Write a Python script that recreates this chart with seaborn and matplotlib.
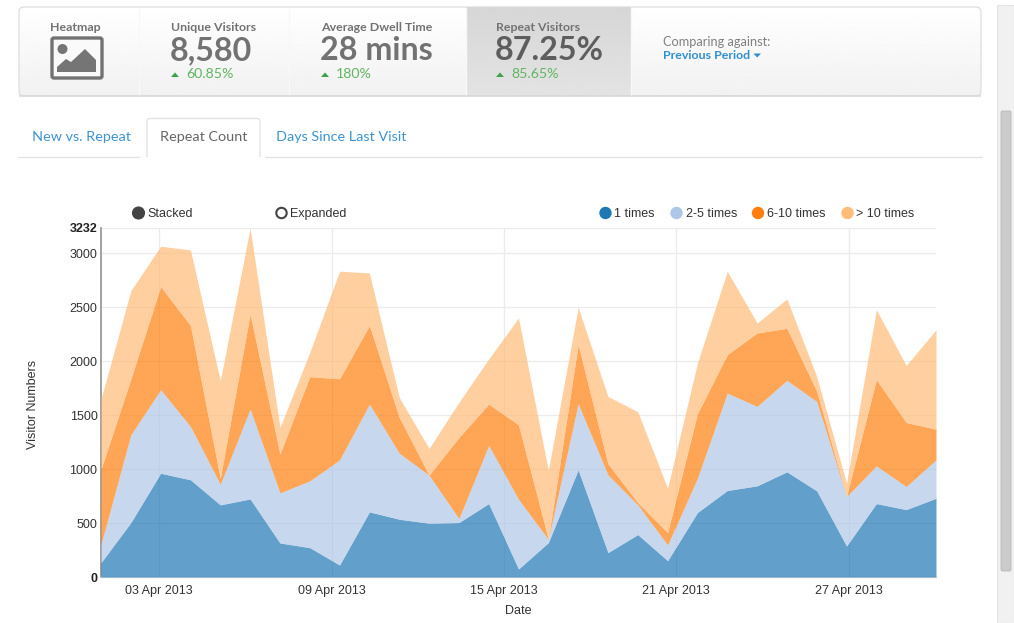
import numpy as np
import pandas as pd
import matplotlib
matplotlib.use("Agg")
import matplotlib.pyplot as plt
from matplotlib.patches import FancyBboxPatch, Rectangle, Circle, Polygon
import seaborn as sns

# ---------- data ----------
series_names = ["1 times", "2-5 times", "6-10 times", "> 10 times"]
day_index = list(range(29))
once = [133,504,961,900,668,723,315,272,111,603,535,498,504,680,74,318,992,226,393,151,597,801,844,974,798,287,680,624,729]
two_five = [170,813,773,494,191,832,464,618,974,998,612,445,37,538,646,31,612,720,275,146,318,902,736,847,828,458,349,214,356]
six_ten = [695,516,955,934,53,881,359,965,751,727,331,0,751,383,690,0,547,102,21,114,597,356,680,482,93,0,798,593,284]
over_ten = [650,819,374,701,906,796,247,225,996,488,185,247,325,418,989,637,347,624,841,411,469,773,92,272,139,124,649,528,920]
x_tick_labels = ["03 Apr 2013", "09 Apr 2013", "15 Apr 2013", "21 Apr 2013", "27 Apr 2013"]
x_tick_positions = [1.945, 7.73, 13.51, 19.28, 25.08]
y_ticks = [0, 500, 1000, 1500, 2000, 2500, 3000, 3232]

kpi_titles = ["Unique Visitors", "Average Dwell Time", "Repeat Visitors"]
kpi_values = ["8,580", "28 mins", "87.25%"]
kpi_changes = ["60.85%", "180%", "85.65%"]
tab_labels = ["New vs. Repeat", "Repeat Count", "Days Since Last Visit"]

# ---------- theme ----------
sns.set_theme(style="white")
plt.rcParams["font.family"] = ["Liberation Sans", "DejaVu Sans"]
palette = sns.color_palette("tab20", 4)
W, H = 1014, 623
fig = plt.figure(figsize=(W / 100, H / 100), dpi=100, facecolor="white")

# ---------- page overlay in pixel coordinates ----------
bg = fig.add_axes([0, 0, 1, 1], zorder=0)
bg.set_xlim(0, W); bg.set_ylim(H, 0); bg.axis("off")
UI = "Lato"
BIG = "Lato"
GREY = "#727272"
BLUE = "#3c94d2"
GREEN = "#62b562"

panel = FancyBboxPatch((19, 7), 962, 89, boxstyle="round,pad=0,rounding_size=5",
                       fc="none", ec="#dadada", lw=0.8, zorder=5)
bg.add_patch(panel)
grad = np.linspace(1, 0.945, 64).reshape(-1, 1)
im = bg.imshow(grad, extent=(19, 981, 96, 7), cmap="gray", vmin=0, vmax=1, aspect="auto", zorder=1)
im.set_clip_path(panel)
sel = bg.imshow(np.linspace(0.84, 0.89, 64).reshape(-1, 1), extent=(466, 631, 96, 7), cmap="gray",
                vmin=0, vmax=1, aspect="auto", zorder=2)
bg.set_xlim(0, W); bg.set_ylim(H, 0)
bg.add_patch(Rectangle((19, 95), 962, 1.5, fc="#cfcfcf", ec="none", zorder=3, alpha=.6))
for xd in (139, 289, 466, 631):
    bg.plot([xd, xd], [8, 95], color="#f8f8f8", lw=1.0, zorder=3)

bg.text(75.5, 27.5, "Heatmap", ha="center", va="center", family=UI, fontsize=8.9, color=GREY, weight="bold", zorder=6)
bg.add_patch(FancyBboxPatch((52, 38), 50, 40, boxstyle="round,pad=0,rounding_size=2",
                            fc="#fafafa", ec="#727272", lw=2.4, zorder=3))
bg.add_patch(Circle((62.5, 49), 5, fc="#757575", ec="none", zorder=4))
bg.add_patch(Polygon([[57, 72], [57, 67], [66, 59], [71, 62], [85, 49], [96, 60], [96, 72]],
                     fc="#757575", ec="none", zorder=4))

kpi_left = [171, 321, 496]
kpi_bold = [GREY, GREY, "#5e5e5e"]
for xl, t, v, c, col in zip(kpi_left, kpi_titles, kpi_values, kpi_changes, kpi_bold):
    bg.text(xl, 27.5, t, ha="left", va="center", family=UI, fontsize=8.9, color=GREY, weight="bold", zorder=6)
    bg.text(xl - 1, 50.5, v, ha="left", va="center", family=BIG, fontsize=23.2, color=col, weight="bold", zorder=6)
    bg.add_patch(Polygon([[xl, 77], [xl + 8, 77], [xl + 4, 72.5]], fc="#3da24a", ec="none", zorder=6))
    bg.text(xl + 15, 74, c, ha="left", va="center", family=UI, fontsize=10.2, color=GREEN, zorder=6)

bg.text(663, 42.5, "Comparing against:", ha="left", va="center", family=UI, fontsize=9.2, color="#808080", zorder=6)
bg.text(663, 55.5, "Previous Period", ha="left", va="center", family=UI, fontsize=8.9, color="#2f8fd0", weight="bold", zorder=6)
bg.add_patch(Polygon([[753.5, 53.5], [761, 53.5], [757.2, 57.5]], fc="#2f8fd0", ec="none", zorder=6))

# tabs
bg.plot([18, 982], [156.5, 156.5], color="#e2e2e2", lw=0.9, zorder=2)
bg.add_patch(FancyBboxPatch((147, 118.5), 113, 45, boxstyle="round,pad=0,rounding_size=3",
                            fc="white", ec="#e2e2e2", lw=0.9, zorder=3))
bg.add_patch(Rectangle((140, 157), 125, 12, fc="white", ec="none", zorder=4))
bg.text(81.5, 137, tab_labels[0], ha="center", va="center", family=UI, fontsize=10.4, color=BLUE, zorder=6)
bg.text(203.5, 137, tab_labels[1], ha="center", va="center", family=UI, fontsize=10.4, color="#666666", zorder=6)
bg.text(341.5, 137, tab_labels[2], ha="center", va="center", family=UI, fontsize=10.4, color=BLUE, zorder=6)

# scrollbar
bg.add_patch(Rectangle((997, 5), 17, 618, fc="#f1f1f1", ec="#e3e3e3", lw=.8, zorder=1))
bg.add_patch(FancyBboxPatch((1001, 111), 10, 460, boxstyle="round,pad=0,rounding_size=1.5",
                            fc="#cbcbcb", ec="#b8b8b8", lw=.6, zorder=2))

# chart legend row
ctext = "#333333"
FS = 9.0
bg.add_patch(Circle((138.5, 213), 6.0, fc="#444444", ec="#444444", lw=.8, zorder=5))
bg.text(147, 213.8, "Stacked", ha="left", va="center", fontsize=FS, color=ctext, zorder=6)
bg.add_patch(Circle((281.5, 213), 5.2, fc="white", ec="#444444", lw=1.5, zorder=5))
bg.text(290, 213.8, "Expanded", ha="left", va="center", fontsize=FS, color=ctext, zorder=6)
for xc, name, col in zip([605.5, 676.5, 758, 847.5], series_names, palette):
    bg.add_patch(Circle((xc, 213), 6.2, fc=col, ec="none", zorder=5))
    bg.text(xc + 9, 213.8, name, ha="left", va="center", fontsize=FS, color=ctext, zorder=6)

# ---------- chart ----------
ax = fig.add_axes([101 / W, 1 - 577 / H, 835 / W, 349 / H], zorder=2)
ax.patch.set_alpha(0)

tops = np.cumsum([once, two_five, six_ten, over_ten], axis=0)
long_df = pd.DataFrame({
    "day": np.tile(day_index, 4),
    "top": tops.ravel(),
    "series": np.repeat(series_names, len(day_index)),
})
sns.lineplot(data=long_df, x="day", y="top", hue="series", hue_order=series_names,
             palette=palette, linewidth=0, legend=False, ax=ax, errorbar=None, sort=False)
lower = np.zeros(len(day_index))
for upper, col in zip(tops, palette):
    ax.fill_between(day_index, lower, upper, color=col, alpha=0.7, linewidth=0, zorder=3)
    lower = upper

ax.set_xlim(0, 28)
ax.set_ylim(0, 3232)
ax.set_yticks(y_ticks)
ax.set_xticks(x_tick_positions)
ax.set_xticklabels(x_tick_labels)
ax.set_yticklabels([str(v) for v in y_ticks])
ax.tick_params(axis="both", length=0, labelsize=FS, labelcolor=ctext)
ax.tick_params(axis="x", pad=6)
ax.tick_params(axis="y", pad=2.5)
for lab, val in zip(ax.get_yticklabels(), y_ticks):
    if val in (0, 3232):
        lab.set_fontweight("bold")
        lab.set_color("#222222")
ax.grid(True, color="#ebebeb", lw=0.9, zorder=0)
ax.set_axisbelow(True)
ax.set_xlabel("")
ax.set_ylabel("")
sns.despine(ax=ax, top=True, right=True, bottom=False, left=False)
ax.spines["left"].set_color("#888888")
ax.spines["left"].set_linewidth(1.1)
ax.spines["bottom"].set_color("#dddddd")
ax.spines["bottom"].set_linewidth(1)

bg.text(518.5, 611, "Date", ha="center", va="center", fontsize=FS, color=ctext, zorder=6)
bg.text(32.5, 404, "Visitor Numbers", ha="center", va="center", rotation=90, fontsize=FS, color=ctext, zorder=6)

fig.savefig("out.png", dpi=100, facecolor="white")
